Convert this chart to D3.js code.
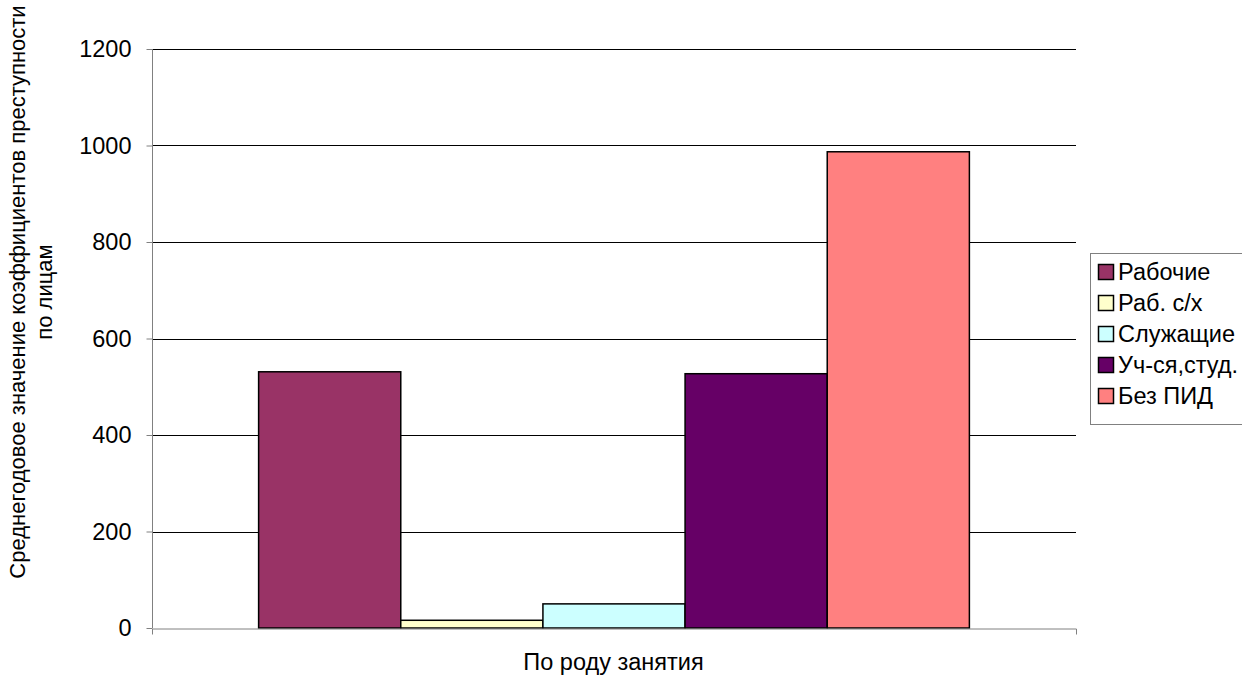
<!DOCTYPE html>
<html><head><meta charset="utf-8">
<script src="https://cdn.jsdelivr.net/npm/d3@7"></script>
<style>body{margin:0;background:#fff}svg{display:block}text{font-family:"Liberation Sans",Arial,sans-serif}</style>
</head><body>
<script>
const categories = ["По роду занятия"];
const seriesNames = ["Рабочие", "Раб. с/х", "Служащие", "Уч-ся,студ.", "Без ПИД"];
const seriesValues = [531, 16, 50, 527, 987];
const seriesColors = ["#993366", "#FFFFCC", "#CCFFFF", "#660066", "#FF8080"];
const yTicks = [0, 200, 400, 600, 800, 1000, 1200];
const yTitle = ["Среднегодовое значение коэффициентов преступности", "по лицам"];

(function () {
const W = 1242, H = 675, FS = 23.5, FT = 22;
const svg = d3.select("body").append("svg").attr("width", W).attr("height", H);
const pL = 152, pR = 1076, pT = 49, pB = 628;

const y = d3.scaleLinear().domain([0, 1200]).range([pB, pT]);
const x0 = d3.scaleBand().domain(categories).range([pL, pR]).paddingInner(0).paddingOuter(0);
// gap width 150%: group = 5 bars + 1.5 bar of gap
const groupInner = x0.bandwidth() * 5 / 6.5;
const gx = x0(categories[0]) + (x0.bandwidth() - groupInner) / 2;
const x1 = d3.scaleBand().domain(seriesNames).range([gx, gx + groupInner]);

// gridlines
svg.append("g").selectAll("line").data(yTicks.filter(d => d > 0)).join("line")
  .attr("x1", pL).attr("x2", pR)
  .attr("y1", d => Math.round(y(d)) + 0.5).attr("y2", d => Math.round(y(d)) + 0.5)
  .attr("stroke", "#000").attr("stroke-width", 1);

// bars
svg.append("g").selectAll("rect").data(seriesNames).join("rect")
  .attr("x", d => x1(d))
  .attr("y", (d, i) => y(seriesValues[i]))
  .attr("width", x1.bandwidth())
  .attr("height", (d, i) => pB - y(seriesValues[i]))
  .attr("fill", (d, i) => seriesColors[i])
  .attr("stroke", "#000").attr("stroke-width", 1.5);

// y axis
const yAxis = d3.axisLeft(y).tickValues(yTicks).tickSize(6).tickPadding(15).tickFormat(d3.format("d"));
const ya = svg.append("g").attr("transform", `translate(${pL + 0.5},0)`).call(yAxis);
ya.select(".domain").attr("stroke", "#808080").attr("d", `M0,${pT}V${pB}`);
ya.selectAll(".tick line").attr("stroke", "#808080");
ya.selectAll(".tick text").attr("font-size", FS).attr("fill", "#000");

// x axis
const xAxis = d3.axisBottom(x0).tickValues([]).tickSizeOuter(6);
const xa = svg.append("g").attr("transform", `translate(0,${pB + 0.5})`).call(xAxis);
xa.select(".domain").attr("stroke", "#808080");

svg.append("text").attr("x", 613.5).attr("y", 670)
  .attr("text-anchor", "middle").attr("font-size", FS).text(categories[0]);

// y title
const yt = svg.append("text").attr("transform", "translate(0,292) rotate(-90)")
  .attr("text-anchor", "middle").attr("font-size", FT);
yt.selectAll("tspan").data(yTitle).join("tspan")
  .attr("x", 0).attr("y", (d, i) => 25 + i * 27).text(d => d);

// legend
const lg = svg.append("g");
lg.append("rect").attr("x", 1090.5).attr("y", 253.5).attr("width", 170).attr("height", 171)
  .attr("fill", "#fff").attr("stroke", "#808080").attr("stroke-width", 1);
const items = lg.selectAll("g.item").data(seriesNames).join("g").attr("class", "item")
  .attr("transform", (d, i) => `translate(1098,${272 + i * 31})`);
items.append("rect").attr("x", 0.5).attr("y", -7.5).attr("width", 15).attr("height", 15)
  .attr("fill", (d, i) => seriesColors[i]).attr("stroke", "#000").attr("stroke-width", 1.5);
items.append("text").attr("x", 20).attr("y", 8).attr("font-size", FS).text(d => d);
})();
</script>
</body></html>
